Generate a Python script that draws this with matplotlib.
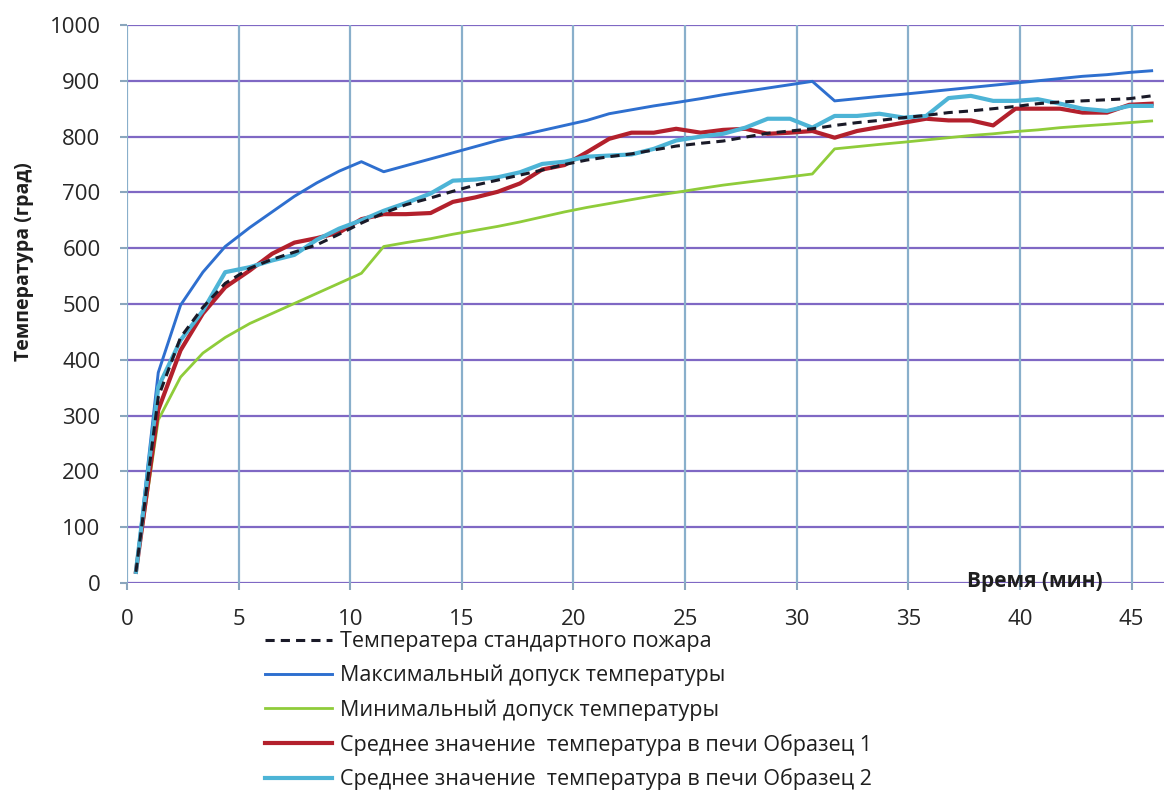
import matplotlib
matplotlib.use("Agg")
import matplotlib.pyplot as plt

# time of each reading, minutes
minutes = [0.4, 1.4, 2.4, 3.4, 4.4, 5.5, 6.5, 7.5, 8.5, 9.5,
           10.5, 11.5, 12.5, 13.6, 14.6, 15.6, 16.6, 17.6, 18.6, 19.6,
           20.6, 21.6, 22.6, 23.6, 24.6, 25.7, 26.7, 27.7, 28.7, 29.7,
           30.7, 31.7, 32.7, 33.7, 34.8, 35.8, 36.8, 37.8, 38.8, 39.8,
           40.8, 41.8, 42.8, 43.9, 44.9, 45.9]

standard = [20, 333, 440, 494, 537, 564, 580, 593, 606, 625,
            645, 663, 678, 690, 702, 713, 722, 731, 740, 750,
            758, 764, 769, 776, 783, 788, 792, 799, 806, 810,
            814, 820, 825, 829, 834, 838, 843, 846, 850, 854,
            859, 862, 864, 866, 868, 873]

max_tol = [20, 377, 498, 557, 603, 637, 665, 693, 717, 738,
           755, 737, 748, 760, 771, 782, 793, 802, 811, 820,
           829, 841, 848, 855, 861, 868, 875, 881, 887, 893,
           899, 864, 868, 872, 876, 880, 884, 888, 892, 896,
           900, 904, 908, 911, 915, 918]

min_tol = [20, 292, 369, 412, 440, 465, 483, 501, 519, 537,
           555, 603, 610, 617, 625, 632, 639, 647, 656, 665,
           673, 680, 687, 694, 700, 707, 713, 718, 723, 728,
           733, 778, 782, 786, 790, 794, 798, 802, 805, 809,
           812, 816, 819, 822, 825, 828]

sample1 = [20, 310, 417, 483, 530, 560, 590, 610, 618, 628,
           652, 661, 661, 663, 683, 691, 701, 716, 741, 749,
           772, 796, 807, 807, 814, 807, 812, 814, 805, 807,
           810, 798, 810, 817, 825, 832, 829, 829, 820, 850,
           850, 850, 843, 843, 857, 859]

sample2 = [20, 351, 435, 488, 557, 566, 578, 588, 615, 635,
           650, 667, 681, 698, 721, 723, 727, 736, 751, 755,
           764, 766, 768, 778, 793, 800, 805, 816, 832, 832,
           816, 837, 837, 841, 834, 837, 869, 873, 864, 864,
           867, 859, 850, 846, 855, 855]

labels = ["Температера стандартного пожара",
          "Максимальный допуск температуры",
          "Минимальный допуск температуры",
          "Среднее значение  температура в печи Образец 1",
          "Среднее значение  температура в печи Образец 2"]

plt.rcParams['font.family'] = ['Open Sans', 'DejaVu Sans']

fig = plt.figure(figsize=(11.64, 7.91), dpi=100)
ax = fig.add_axes([0.1091, 0.2630, 0.8918, 0.7054])

ax.set_xlim(0, 46.5)
ax.set_ylim(0, 1000)
ax.set_xticks(range(0, 46, 5))
ax.set_yticks(range(0, 1001, 100))
for s in ax.spines.values():
    s.set_visible(False)

# grid
for yv in range(0, 1001, 100):
    ax.axhline(yv, color='#7f68c4', lw=1.6, zorder=1)
for xv in range(0, 46, 5):
    ax.axvline(xv, color='#89afcb', lw=1.6, zorder=1)

ax.tick_params(axis='both', labelsize=16, colors='#8aa6bd', labelcolor='#262626',
               length=5, width=1.5)
ax.tick_params(axis='y', pad=14)
ax.tick_params(axis='x', pad=14)

ax.plot(minutes, max_tol, color='#2e6fcf', lw=2.1, zorder=3, label=labels[1])
ax.plot(minutes, min_tol, color='#8fcc3a', lw=2.0, zorder=3, label=labels[2])
ax.plot(minutes, sample1, color='#b3202c', lw=3.0, zorder=4, label=labels[3])
ax.plot(minutes, sample2, color='#4db4d6', lw=3.0, zorder=5, label=labels[4])
ax.plot(minutes, standard, color='#1a1a28', lw=2.2, ls=(0, (3, 2)), zorder=6,
        label=labels[0])

fig.text(24 / 1164, 1 - 262 / 791, "Температура (град)", rotation=90,
         fontsize=14, fontweight='bold', ha='center', va='center', color='#1e1e1e')
ax.text(43.7, 3, "Время (мин)", fontsize=15, fontweight='bold',
        ha='right', va='center', zorder=7, color='#1e1e1e')

handles, labs = ax.get_legend_handles_labels()
order = [4, 0, 1, 2, 3]
fig.legend([handles[i] for i in order], [labs[i] for i in order],
           loc='upper left', bbox_to_anchor=(0.2277, 0.2022), frameon=False,
           fontsize=15.5, handlelength=3.1, handletextpad=0.37, labelspacing=0.6,
           borderaxespad=0, borderpad=0, labelcolor='#1e1e1e')

fig.savefig("out.png", dpi=100)
